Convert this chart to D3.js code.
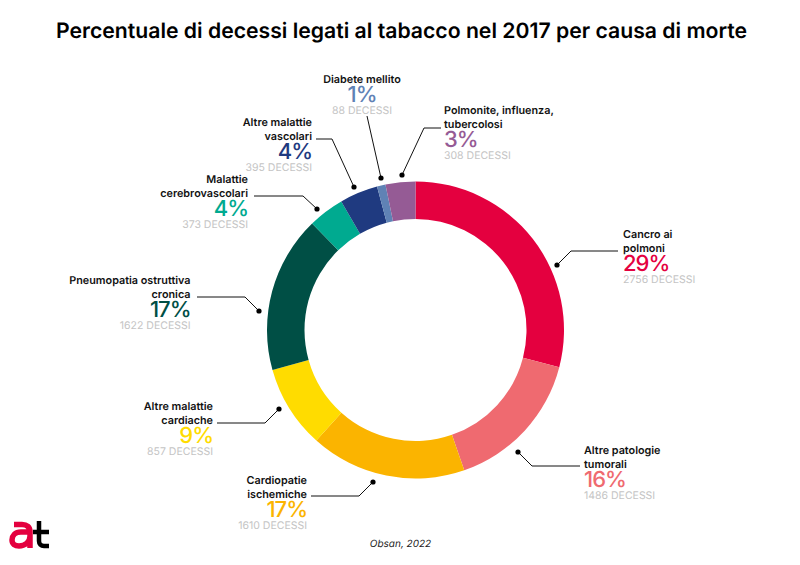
<!DOCTYPE html>
<html>
<head>
<meta charset="utf-8">
<script src="https://cdn.jsdelivr.net/npm/d3@7"></script>
<style>
  body { margin: 0; background: #fff; }
  text { font-family: Inter, "Noto Sans", sans-serif; text-rendering: geometricPrecision; }
</style>
</head>
<body>
<div id="chart"></div>
<script>
const causes = ['Cancro ai polmoni', 'Altre patologie tumorali', 'Cardiopatie ischemiche', 'Altre malattie cardiache',
  'Pneumopatia ostruttiva cronica', 'Malattie cerebrovascolari', 'Altre malattie vascolari', 'Diabete mellito',
  'Polmonite, influenza, tubercolosi']
const deaths = [2756, 1486, 1610, 857, 1622, 373, 395, 88, 308]
const percents = [29, 16, 17, 9, 17, 4, 4, 1, 3]
const labelLines = [
  ['Cancro ai', 'polmoni'],
  ['Altre patologie', 'tumorali'],
  ['Cardiopatie', 'ischemiche'],
  ['Altre malattie', 'cardiache'],
  ['Pneumopatia ostruttiva', 'cronica'],
  ['Malattie', 'cerebrovascolari'],
  ['Altre malattie', 'vascolari'],
  ['Diabete mellito'],
  ['Polmonite, influenza,', 'tubercolosi']
]
const colors = ['#e4003f', '#ef6a70', '#fbb400', '#ffdc00', '#004f45', '#00aa90', '#1f3a80', '#5f82b5', '#955b95']

// label anchor + leader path, placed by hand
const layout = [
  {x: 623, y: 238, anchor: 'start', leader: [[557, 265], [571, 251], [618, 251]]},
  {x: 584, y: 454, anchor: 'start', leader: [[518, 452], [532, 466], [580, 466]]},
  {x: 307, y: 484, anchor: 'end', leader: [[373, 482], [359, 496], [311, 496]]},
  {x: 213, y: 410, anchor: 'end', leader: [[279, 409], [265, 423], [217, 423]]},
  {x: 190.5, y: 284, anchor: 'end', leader: [[259, 311], [245, 297], [197, 297]]},
  {x: 248, y: 183, anchor: 'end', leader: [[317, 209], [303, 196], [254, 196]]},
  {x: 312, y: 126, anchor: 'end', leader: [[354, 187], [332, 139], [316, 139]]},
  {x: 362, y: 83, anchor: 'middle', leader: [[381, 178], [367, 116]]},
  {x: 444, y: 114, anchor: 'start', leader: [[402, 175], [424, 128], [441, 128]]}
]

const width = 800, height = 565
const cx = 415.5, cy = 330, outer = 148.5, inner = 111

const svg = d3.select('#chart').append('svg')
  .attr('width', width)
  .attr('height', height)

svg.append('text')
  .attr('x', 401.5)
  .attr('y', 38)
  .attr('text-anchor', 'middle')
  .attr('font-size', 21.2)
  .attr('font-weight', 600)
  .text('Percentuale di decessi legati al tabacco nel 2017 per causa di morte')

const pie = d3.pie().sort(null)
const arc = d3.arc().innerRadius(inner).outerRadius(outer)

svg.append('g')
  .attr('transform', `translate(${cx},${cy})`)
  .selectAll('path')
  .data(pie(deaths))
  .enter()
  .append('path')
  .attr('d', arc)
  .style('fill', (d, i) => colors[i])

const line = d3.line()

const leaders = svg.append('g')
leaders.selectAll('path')
  .data(layout)
  .enter()
  .append('path')
  .attr('d', d => line(d.leader))
  .style('fill', 'none')
  .style('stroke', '#111')
  .style('stroke-width', 1)

leaders.selectAll('circle')
  .data(layout)
  .enter()
  .append('circle')
  .attr('cx', d => d.leader[0][0])
  .attr('cy', d => d.leader[0][1])
  .attr('r', 2.6)
  .style('fill', '#000')

const labels = svg.append('g')
causes.forEach((cause, i) => {
  const p = layout[i]
  const g = labels.append('text')
    .attr('text-anchor', p.anchor)
    .attr('aria-label', cause)
  let y = p.y
  labelLines[i].forEach((t, j) => {
    if (j > 0) y += 14
    g.append('tspan').attr('x', p.x).attr('y', y)
      .attr('font-size', 10.8).attr('font-weight', 600).attr('fill', '#111').text(t)
  })
  y += 19
  g.append('tspan').attr('x', p.x).attr('y', y)
    .attr('font-size', 22).attr('font-weight', 500).attr('letter-spacing', -1)
    .attr('fill', colors[i]).text(percents[i] + '%')
  y += 12
  g.append('tspan').attr('x', p.x).attr('y', y)
    .attr('font-size', 10.5).attr('fill', '#c4c4c4').text(deaths[i] + ' DECESSI')
})

svg.append('text')
  .attr('x', 400.5)
  .attr('y', 547)
  .attr('text-anchor', 'middle')
  .attr('font-size', 10)
  .attr('font-style', 'italic')
  .attr('fill', '#222')
  .text('Obsan, 2022')

// logo
const logo = svg.append('g')
logo.append('path')
  .attr('d', 'M14 524.5 H22 C27 524.5 30 527 30 532 V548 M30 532 H21 C15 532 12 536 12 540 C12 544 15 546 19 546 C25 546 30 542 30 536')
  .style('fill', 'none').style('stroke', '#e4003f').style('stroke-width', 5.5)
logo.append('path')
  .attr('d', 'M39 521 V541 C39 544 41 546 44 546 H49 M33 532 H49')
  .style('fill', 'none').style('stroke', '#000').style('stroke-width', 4.5)
</script>
</body>
</html>
